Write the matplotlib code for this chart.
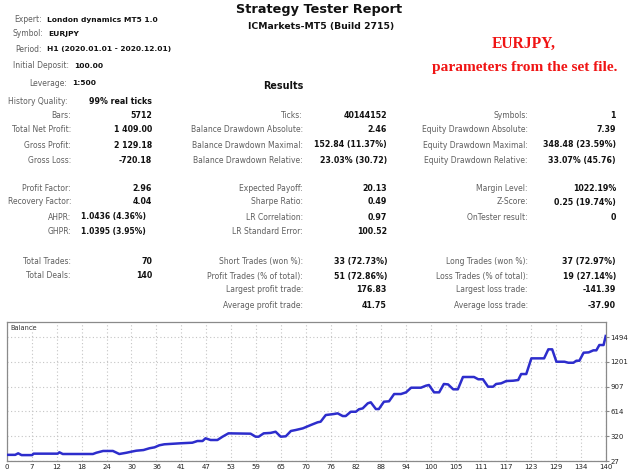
"""
Strategy Tester Report (MT5) - London dynamics, EURJPY.
"""

import matplotlib
matplotlib.use("Agg")
import matplotlib.pyplot as plt
import numpy as np

W, H = 630, 473

# ── header data ──────────────────────────────────────────────────────────────
header_labels = ["Expert:", "Symbol:", "Period:", "Initial Deposit:", "Leverage:"]
header_values = ["London dynamics MT5 1.0", "EURJPY",
                 "H1 (2020.01.01 - 2020.12.01)", "100.00", "1:500"]

# ── results table: (label, value) per column ────────────────────────────────
col1_labels = ["Bars:", "Total Net Profit:", "Gross Profit:", "Gross Loss:", None,
               "Profit Factor:", "Recovery Factor:", "AHPR:", "GHPR:", None,
               "Total Trades:", "Total Deals:"]
col1_values = ["5712", "1 409.00", "2 129.18", "-720.18", None,
               "2.96", "4.04", "1.0436 (4.36%)", "1.0395 (3.95%)", None,
               "70", "140"]
col2_labels = ["Ticks:", "Balance Drawdown Absolute:", "Balance Drawdown Maximal:",
               "Balance Drawdown Relative:", None,
               "Expected Payoff:", "Sharpe Ratio:", "LR Correlation:",
               "LR Standard Error:", None,
               "Short Trades (won %):", "Profit Trades (% of total):",
               "Largest profit trade:", "Average profit trade:"]
col2_values = ["40144152", "2.46", "152.84 (11.37%)", "23.03% (30.72)", None,
               "20.13", "0.49", "0.97", "100.52", None,
               "33 (72.73%)", "51 (72.86%)", "176.83", "41.75"]
col3_labels = ["Symbols:", "Equity Drawdown Absolute:", "Equity Drawdown Maximal:",
               "Equity Drawdown Relative:", None,
               "Margin Level:", "Z-Score:", "OnTester result:", None, None,
               "Long Trades (won %):", "Loss Trades (% of total):",
               "Largest loss trade:", "Average loss trade:"]
col3_values = ["1", "7.39", "348.48 (23.59%)", "33.07% (45.76)", None,
               "1022.19%", "0.25 (19.74%)", "0", None, None,
               "37 (72.97%)", "19 (27.14%)", "-141.39", "-37.90"]

# ── balance curve (deal number, balance) ────────────────────────────────────
deal = [0, 2.0, 2.7, 3.5, 6.0, 6.3, 12.0, 12.4, 13.2, 20.3, 21.1, 22.7, 25.0,
        26.5, 28.2, 29.3, 30.5, 32.2, 33.6, 34.8, 35.9, 37.1, 40.9, 43.7, 44.9,
        46.1, 46.8, 48.0, 49.6, 50.8, 52.2, 57.4, 58.6, 59.3, 60.5, 62.1, 63.3,
        64.5, 65.7, 66.9, 68.0, 69.7, 71.6, 73.2, 73.9, 75.1, 77.0, 77.9, 79.1,
        79.8, 81.0, 82.2, 82.9, 83.8, 85.0, 85.7, 86.9, 87.6, 88.8, 90.0, 91.2,
        92.8, 94.0, 95.2, 97.5, 98.7, 99.4, 100.6, 101.8, 102.9, 103.9, 105.1,
        106.2, 107.4, 110.0, 111.0, 112.1, 113.3, 114.5, 115.2, 116.4, 117.6,
        119.2, 120.4, 121.1, 122.3, 123.5, 126.5, 127.5, 128.4, 129.4, 131.3,
        132.2, 133.4, 134.1, 134.8, 135.8, 137.0, 138.1, 138.8, 139.5, 140.5,
        141.0]
balance = [100, 100, 118, 97, 97, 114, 114, 130, 110, 110, 125, 146, 146,
           110, 125, 137, 149, 157, 178, 189, 213, 225, 237, 244, 264,
           264, 296, 276, 276, 315, 355, 351, 315, 315, 355, 360, 374,
           315, 320, 383, 394, 414, 454, 486, 493, 572, 584, 592, 560,
           560, 611, 611, 640, 651, 711, 723, 643, 643, 730, 735, 821,
           821, 841, 896, 896, 920, 928, 841, 841, 940, 935, 877,
           877, 1023, 1023, 996, 996, 908, 908, 940, 948, 975,
           979, 987, 1058, 1058, 1244, 1244, 1351, 1351, 1204, 1204,
           1192, 1192, 1216, 1216, 1311, 1315, 1339, 1339, 1402, 1402,
           1509]

x_tick_labels = ["0", "7", "12", "18", "24", "30", "36", "41", "47", "53", "59",
                 "65", "70", "76", "82", "88", "94", "100", "105", "111", "117",
                 "123", "129", "134", "140"]
y_ticks = [27, 320, 614, 907, 1201, 1494]

LABEL_C = "#5e5e5e"
VALUE_C = "#111111"
FONT = "DejaVu Sans"
LS = 5.5   # label size
VS = 5.7   # value size


def txt(x, y, s, **kw):
    """Place text using pixel coords (origin top-left)."""
    kw.setdefault("family", FONT)
    kw.setdefault("va", "center")
    return fig.text(x / W, 1 - y / H, s, **kw)


fig = plt.figure(figsize=(W / 100, H / 100), dpi=100)
fig.patch.set_facecolor("white")

# ── titles ───────────────────────────────────────────────────────────────────
txt(319, 9, "Strategy Tester Report", ha="center", fontsize=9.3,
    fontweight="bold", color=VALUE_C)
txt(321, 27, "ICMarkets-MT5 (Build 2715)", ha="center", fontsize=6.7,
    fontweight="bold", color=VALUE_C)
txt(283, 86, "Results", ha="center", fontsize=6.9, fontweight="bold",
    color=VALUE_C)

txt(524, 44, "EURJPY,", ha="center", fontsize=11.2, fontweight="bold",
    color="#f01414", family="Liberation Serif")
txt(525, 68, "parameters from the set file.", ha="center", fontsize=11.1,
    fontweight="bold", color="#f01414", family="Liberation Serif")

# ── header block ─────────────────────────────────────────────────────────────
hdr_y = [20, 34, 49, 66, 83]
hdr_lx = [42, 43, 42, 69, 67]
for lab, val, y, lx in zip(header_labels, header_values, hdr_y, hdr_lx):
    txt(lx, y, lab, ha="right", fontsize=LS, color=LABEL_C)
    txt(lx + 5, y, val, ha="left", fontsize=5.4, fontweight="bold", color=VALUE_C)

txt(68, 101, "History Quality:", ha="right", fontsize=LS, color=LABEL_C)
txt(152, 101, "99% real ticks", ha="right", fontsize=VS, fontweight="bold",
    color=VALUE_C)

# ── results table ────────────────────────────────────────────────────────────
row_y = [116, 130, 145, 160, 174, 188, 202, 217, 231, 246, 261, 276, 290, 305]

for i, (lab, val) in enumerate(zip(col1_labels, col1_values)):
    if lab is None:
        continue
    txt(71, row_y[i], lab, ha="right", fontsize=LS, color=LABEL_C)
    if lab in ("AHPR:", "GHPR:"):
        txt(81, row_y[i], val, ha="left", fontsize=5.5, fontweight="bold",
            color=VALUE_C)
    else:
        txt(152, row_y[i], val, ha="right", fontsize=VS, fontweight="bold",
            color=VALUE_C)

for i, (lab, val) in enumerate(zip(col2_labels, col2_values)):
    if lab is None:
        continue
    txt(303, row_y[i], lab, ha="right", fontsize=LS, color=LABEL_C)
    txt(387, row_y[i], val, ha="right", fontsize=VS, fontweight="bold",
        color=VALUE_C)

for i, (lab, val) in enumerate(zip(col3_labels, col3_values)):
    if lab is None:
        continue
    txt(528, row_y[i], lab, ha="right", fontsize=LS, color=LABEL_C)
    txt(616, row_y[i], val, ha="right", fontsize=VS, fontweight="bold",
        color=VALUE_C)

# ── balance chart ────────────────────────────────────────────────────────────
ax = fig.add_axes([6.7 / W, 1 - 461 / H, 599 / W, 139 / H])
ax.set_facecolor("white")
x_max = deal[-1]
ax.set_xlim(0, x_max)
ax.set_ylim(27, 1675)

ax.plot(deal, balance, color="#2d2dcc", lw=1.8, solid_joinstyle="round",
        zorder=3)

xt = np.linspace(0, x_max, len(x_tick_labels))
ax.set_xticks(xt)
ax.set_xticklabels(x_tick_labels)
ax.set_yticks(y_ticks)
ax.set_yticklabels([str(v) for v in y_ticks])
ax.yaxis.tick_right()
ax.tick_params(axis="x", length=0, pad=2, labelsize=5.0, labelcolor="#222222")
ax.tick_params(axis="y", length=2, pad=1.5, labelsize=5.0, labelcolor="#222222",
               color="#888888")
for lbl in ax.get_xticklabels():
    lbl.set_family(FONT)
for lbl in ax.get_yticklabels():
    lbl.set_family(FONT)

ax.grid(True, color="#c4c4c4", lw=0.8, linestyle=(0, (1, 2.2)))
for sp in ax.spines.values():
    sp.set_color("#8a8a8a")
    sp.set_linewidth(0.9)

ax.text(0.006, 0.955, "Balance", transform=ax.transAxes, ha="left", va="center",
        fontsize=4.8, color="#333333", family=FONT)

fig.savefig("out.png", dpi=100, facecolor="white")
